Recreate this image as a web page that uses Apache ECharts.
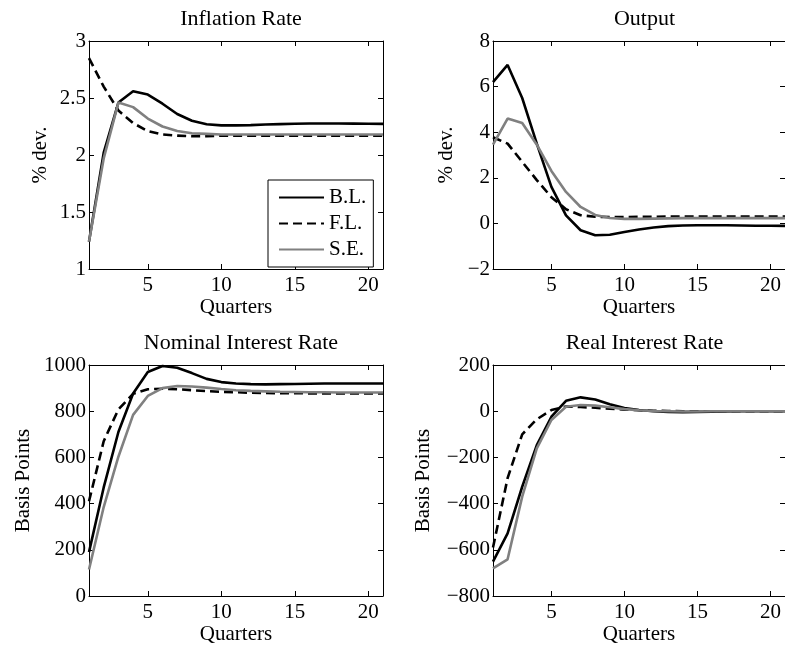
<!DOCTYPE html>
<html lang="en">
<head>
  <meta charset="UTF-8">
  <title>Impulse responses</title>
  <script src="https://cdn.jsdelivr.net/npm/echarts@6/dist/echarts.min.js"></script>
</head>
<style>
    body { margin: 0; background: #fff; }
    #main {
        width: 785px;
        height: 648px;
    }
</style>
<body>
<div id="main"></div>
<script>
  const quarters = [1, 2, 3, 4, 5, 6, 7, 8, 9, 10, 11, 12, 13, 14, 15, 16, 17, 18, 19, 20, 21]
  const xTicks = [5, 10, 15, 20]
  const seriesNames = ['B.L.', 'F.L.', 'S.E.']

  // inflation rate, % dev.
  const inflBL = [1.24, 2.02, 2.46, 2.56, 2.53, 2.45, 2.36, 2.30, 2.27, 2.26, 2.26, 2.262, 2.267, 2.271, 2.274, 2.276, 2.276, 2.276, 2.275, 2.274, 2.273]
  const inflFL = [2.85, 2.60, 2.39, 2.28, 2.21, 2.18, 2.17, 2.165, 2.165, 2.17, 2.17, 2.17, 2.17, 2.17, 2.17, 2.17, 2.17, 2.17, 2.17, 2.17, 2.17]
  const inflSE = [1.24, 1.97, 2.46, 2.42, 2.32, 2.25, 2.21, 2.19, 2.185, 2.18, 2.18, 2.18, 2.18, 2.18, 2.18, 2.18, 2.18, 2.18, 2.18, 2.18, 2.18]

  // output, % dev.
  const outBL = [6.2, 6.95, 5.5, 3.5, 1.6, 0.35, -0.3, -0.52, -0.5, -0.38, -0.27, -0.18, -0.12, -0.09, -0.08, -0.08, -0.08, -0.09, -0.1, -0.1, -0.11]
  const outFL = [3.78, 3.5, 2.7, 1.9, 1.15, 0.62, 0.36, 0.29, 0.28, 0.28, 0.29, 0.29, 0.3, 0.3, 0.3, 0.3, 0.3, 0.3, 0.3, 0.3, 0.3]
  const outSE = [3.45, 4.6, 4.4, 3.45, 2.3, 1.38, 0.72, 0.37, 0.24, 0.2, 0.2, 0.21, 0.22, 0.23, 0.23, 0.23, 0.23, 0.23, 0.23, 0.23, 0.23]

  // nominal interest rate, basis points
  const nomBL = [190, 470, 710, 877, 970, 996, 988, 965, 940, 926, 920, 917, 916, 917, 918, 919, 920, 920, 920, 920, 920]
  const nomFL = [410, 670, 808, 875, 895, 897, 895, 891, 887, 884, 882, 880, 879, 878, 878, 877, 877, 877, 877, 877, 877]
  const nomSE = [115, 385, 603, 784, 866, 900, 909, 907, 902, 896, 891, 888, 886, 884, 883, 882, 882, 881, 881, 881, 881]

  // real interest rate, basis points
  const realBL = [-651, -529, -327, -147, -24, 45, 60, 51, 30, 14, 5, 0, -3, -4, -3, -2, -1, 0, 0, 0, 0]
  const realFL = [-590, -290, -100, -35, 5, 20, 18, 15, 11, 7, 4, 2, 1, 0, 0, 0, 0, 0, 0, 0, 0]
  const realSE = [-680, -641, -370, -161, -38, 19, 27, 24, 17, 9, 4, 1, 0, -1, -1, 0, 0, 0, 0, 0, 0]

  const FONT = 'Liberation Serif'
  const FS = 21
  const panels = [
    { title: 'Inflation Rate', yName: '% dev.', data: [inflBL, inflFL, inflSE], min: 1, max: 3, step: 0.5,
      grid: { left: 89, top: 41, width: 294, height: 228 }, nameGap: 38 },
    { title: 'Output', yName: '% dev.', data: [outBL, outFL, outSE], min: -2, max: 8, step: 2,
      grid: { left: 493, top: 41, width: 293, height: 228 }, nameGap: 36 },
    { title: 'Nominal Interest Rate', yName: 'Basis Points', data: [nomBL, nomFL, nomSE], min: 0, max: 1000, step: 200,
      grid: { left: 89, top: 365, width: 294, height: 231 }, nameGap: 55 },
    { title: 'Real Interest Rate', yName: 'Basis Points', data: [realBL, realFL, realSE], min: -800, max: 200, step: 200,
      grid: { left: 493, top: 365, width: 293, height: 231 }, nameGap: 59 }
  ]

  const lineStyles = [
    { color: '#000', width: 2.6, type: 'solid' },
    { color: '#000', width: 2.6, type: [9, 5] },
    { color: '#808080', width: 2.6, type: 'solid' }
  ]

  const minus = v => String(v).replace('-', '\u2212')
  const axisLine = { show: true, onZero: false, lineStyle: { color: '#000', width: 1 } }
  const textBase = { fontFamily: FONT, color: '#000' }

  const grid = [], xAxis = [], yAxis = [], series = [], title = []
  panels.forEach((p, i) => {
    grid.push(p.grid)
    title.push({
      text: p.title, left: p.grid.left + p.grid.width / 2, top: p.grid.top - 38,
      textAlign: 'center',
      textStyle: Object.assign({ fontSize: 22, fontWeight: 'normal' }, textBase)
    })
    // bottom + top x axes
    xAxis.push({
      type: 'value', gridIndex: i, min: 1, max: 21, position: 'bottom',
      name: 'Quarters', nameLocation: 'middle', nameGap: 26,
      nameTextStyle: Object.assign({ fontSize: FS }, textBase),
      axisLine: axisLine, splitLine: { show: false },
      axisTick: { inside: true, length: 5, customValues: xTicks, lineStyle: { color: '#000' } },
      axisLabel: { customValues: xTicks, fontSize: FS, margin: 6, fontFamily: FONT, color: '#000' }
    })
    xAxis.push({
      type: 'value', gridIndex: i, min: 1, max: 21, position: 'top',
      axisLine: axisLine, splitLine: { show: false },
      axisTick: { inside: true, length: 5, customValues: xTicks, lineStyle: { color: '#000' } },
      axisLabel: { show: false }
    })
    // left + right y axes
    yAxis.push({
      type: 'value', gridIndex: i, min: p.min, max: p.max, interval: p.step, position: 'left',
      name: p.yName, nameLocation: 'middle', nameGap: p.nameGap,
      nameTextStyle: Object.assign({ fontSize: FS }, textBase),
      axisLine: axisLine, splitLine: { show: false },
      axisTick: { inside: true, length: 5, lineStyle: { color: '#000' } },
      axisLabel: { fontSize: FS, margin: 3, fontFamily: FONT, color: '#000', formatter: minus }
    })
    yAxis.push({
      type: 'value', gridIndex: i, min: p.min, max: p.max, interval: p.step, position: 'right',
      axisLine: axisLine, splitLine: { show: false },
      axisTick: { inside: true, length: 5, lineStyle: { color: '#000' } },
      axisLabel: { show: false }
    })
    p.data.forEach((vals, k) => {
      series.push({
        name: seriesNames[k], type: 'line',
        xAxisIndex: i * 2, yAxisIndex: i * 2,
        data: quarters.map((q, j) => [q, vals[j]]),
        symbol: 'none', silent: true, animation: false,
        itemStyle: { color: lineStyles[k].color },
        lineStyle: lineStyles[k]
      })
    })
  })

  const chart = echarts.init(document.getElementById('main'))
  chart.setOption({
    backgroundColor: '#fff',
    animation: false,
    title: title,
    legend: {
      data: seriesNames,
      orient: 'vertical',
      left: 268, top: 180,
      backgroundColor: '#fff',
      borderColor: '#000', borderWidth: 1, borderRadius: 0,
      padding: [7, 7, 7, 10],
      itemWidth: 45, itemHeight: 14, itemGap: 5,
      itemStyle: { opacity: 0 },
      textStyle: { fontSize: FS, fontFamily: FONT, color: '#000' }
    },
    grid: grid,
    xAxis: xAxis,
    yAxis: yAxis,
    series: series
  })
</script>
</body>
</html>
